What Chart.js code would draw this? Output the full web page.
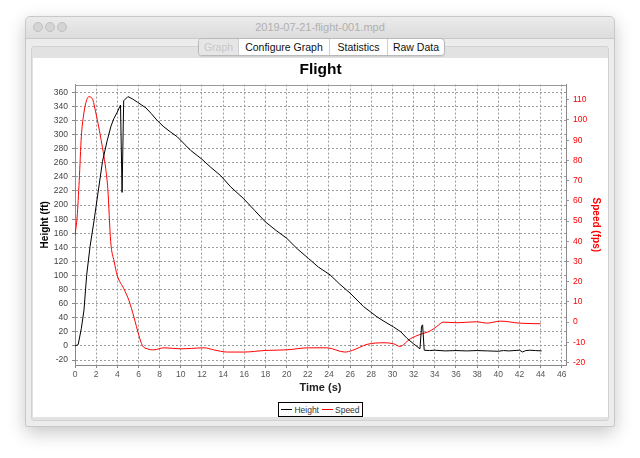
<!DOCTYPE html>
<html>
<head>
<meta charset="utf-8">
<script src="https://cdn.jsdelivr.net/npm/chart.js@4.4.1/dist/chart.umd.min.js"></script>
<style>
  html, body { margin:0; padding:0; background:#ffffff; width:640px; height:458px; overflow:hidden; font-family:"Liberation Sans", Arial, sans-serif; }
  #win { position:absolute; left:25px; top:16px; width:590px; height:411px; background:#ececec; border:1px solid #c8c8c8; border-radius:5px 5px 2px 2px; box-shadow:0 6px 18px rgba(0,0,0,0.22); box-sizing:border-box; }
  #titlebar { position:absolute; left:0; top:0; width:100%; height:21px; background:linear-gradient(#ebebeb,#dcdcdc); border-bottom:1px solid #c9c9c9; border-radius:5px 5px 0 0; }
  #titlebar .t { position:absolute; left:0; width:100%; top:4px; text-align:center; font-size:11px; color:#b0b0b0; }
  .dot { position:absolute; top:5px; width:10px; height:10px; border-radius:50%; background:#d4d4d4; border:1px solid #c0c0c0; box-sizing:border-box; }
  #pane { position:absolute; left:5px; top:29px; width:578px; height:375px; background:#e2e2e2; border:1px solid #d2d2d2; border-radius:3px; box-sizing:border-box; }
  #tabs { position:absolute; left:172px; top:21px; height:16px; display:flex; border:1px solid #b9b9b9; border-radius:4px; background:#fff; font-size:10.5px; overflow:hidden; box-shadow:0 1px 1px rgba(0,0,0,0.08); }
  #tabs div { text-align:center; line-height:16px; color:#111; border-left:1px solid #cfcfcf; box-sizing:border-box; }
  #tabs div.sel { color:#c8c8c8; background:#e6e6e6; border-left:none; }
  #panel { position:absolute; left:33px; top:58px; width:575px; height:359px; background:#fff; }
  #legend { position:absolute; left:278px; top:402px; width:85px; height:15px; border:1px solid #000; box-sizing:border-box; background:#fff; display:flex; align-items:center; justify-content:center; font-size:8.5px; color:#333; white-space:nowrap; }
  #legend span.item { display:flex; align-items:center; margin:0 1.5px; }
  #legend span.sw { display:inline-block; width:11px; height:0; border-top:1px solid #000; margin-right:2px; }
</style>
</head>
<body>
<div id="win">
  <div id="titlebar">
    <div class="dot" style="left:7px"></div>
    <div class="dot" style="left:19px"></div>
    <div class="dot" style="left:31px"></div>
    <div class="t">2019-07-21-flight-001.mpd</div>
  </div>
  <div id="pane"></div>
  <div id="tabs"><div class="sel" style="width:39px">Graph</div><div style="width:91px">Configure Graph</div><div style="width:58px">Statistics</div><div style="width:57px">Raw Data</div></div>
</div>
<div id="panel"><canvas id="c" width="575" height="359"></canvas></div>
<div id="legend"></div>
<script>
// ---- data ----
const chartTitle = "Flight";
const xTitle = "Time (s)";
const heightTitle = "Height (ft)";
const speedTitle = "Speed (fps)";

const heightTimes  = [0, 0.3, 0.6, 0.85, 1.1, 1.42, 1.8, 2.2, 2.6, 3.05, 3.4, 3.68, 4.0, 4.3, 4.45, 4.6, 5.0, 5.4, 5.9, 6.3, 6.7, 7.2, 7.77, 8.4, 9.0, 9.66, 10.9, 12.0, 12.8, 13.75, 14.7, 15.94, 17.0, 18.0, 19.0, 20.0, 21.0, 22.08, 23.0, 24.1, 25.0, 26.0, 27.26, 28.53, 29.2, 30.1, 30.8, 31.36, 32.0, 32.6, 32.75, 32.85, 33.0, 33.5, 34.0, 35.0, 36.0, 37.0, 38.0, 39.0, 40.0, 40.5, 41.0, 42.0, 42.3, 42.6, 43.0, 43.5, 44.1];
const heightValues = [0, 2, 25, 51, 100, 141, 178, 220, 262, 292, 312, 323, 332, 342, 218, 348, 354, 351, 346, 342, 338, 330, 320, 311, 304, 297, 278, 265, 254, 242, 226, 209, 192, 176, 164, 153, 138, 124, 112, 101, 88, 75, 56, 41.5, 35, 27, 20, 11, 3, -4, 28, 30, -6, -6.5, -6, -7, -6.5, -7, -6.5, -7, -7.5, -6.5, -7, -6, -8.5, -6.5, -6, -6.5, -7];

const speedTimes  = [0, 0.2, 0.4, 0.6, 0.8, 1.0, 1.3, 1.64, 1.95, 2.42, 2.9, 3.1, 3.37, 3.7, 4.0, 4.62, 5.1, 5.57, 6.04, 6.36, 6.83, 7.45, 8.4, 9.97, 11.0, 12.2, 13.1, 14.4, 15.94, 18.0, 20.0, 22.08, 23.8, 25.5, 26.2, 27.6, 29.2, 30.1, 30.7, 31.7, 32.6, 33.55, 34.2, 34.8, 36.1, 37.96, 38.9, 40.2, 42.0, 44.0];
const speedValues = [43, 52, 70, 92, 102, 108, 111.5, 110.5, 104, 91.5, 76, 66, 40, 30, 23, 16.5, 10.7, 2.5, -6.6, -11.5, -13.2, -13.7, -12.7, -13.2, -13, -12.7, -13.7, -14.8, -14.8, -14, -13.7, -12.7, -12.7, -14.8, -14, -11, -10.2, -10.7, -12, -8.2, -6.1, -4.4, -2.1, 0, -0.3, 0.2, -0.5, 0.5, -0.5, -0.8];

const xTicks      = [0,2,4,6,8,10,12,14,16,18,20,22,24,26,28,30,32,34,36,38,40,42,44,46];
const heightTicks = [-20,0,20,40,60,80,100,120,140,160,180,200,220,240,260,280,300,320,340,360];
const speedTicks  = [-20,-10,0,10,20,30,40,50,60,70,80,90,100,110];

const seriesNames  = ["Height", "Speed"];
const seriesColors = ["#000000", "#ff0000"];

// ---- chart ----
const toPts = (xs, ys) => xs.map((x, i) => ({x: x, y: ys[i]}));
const FAM = "'Liberation Sans', Arial, sans-serif";
const tickFont = {family: FAM, size: 8.5};

const outline = {
  id: "outline",
  beforeDatasetsDraw(chart) {
    const a = chart.chartArea, ctx = chart.ctx;
    ctx.save();
    ctx.strokeStyle = "#9a9a9a";
    ctx.lineWidth = 1;
    ctx.beginPath();
    ctx.moveTo(a.left, Math.round(a.top) + 0.5);
    ctx.lineTo(a.right, Math.round(a.top) + 0.5);
    ctx.stroke();
    ctx.restore();
  }
};

const chart = new Chart(document.getElementById("c"), {
  type: "line",
  data: {
    datasets: [
      { label: seriesNames[0], data: toPts(heightTimes, heightValues), yAxisID: "yH",
        borderColor: seriesColors[0], backgroundColor: seriesColors[0], borderWidth: 1, pointRadius: 0, tension: 0 },
      { label: seriesNames[1], data: toPts(speedTimes, speedValues), yAxisID: "yS",
        borderColor: seriesColors[1], backgroundColor: seriesColors[1], borderWidth: 1, pointRadius: 0, cubicInterpolationMode: "monotone" }
    ]
  },
  options: {
    responsive: false,
    animation: false,
    layout: { padding: { top: 0, bottom: 18, left: 0, right: 0 } },
    plugins: {
      legend: { display: false },
      tooltip: { enabled: false },
      title: { display: true, text: chartTitle, color: "#000",
               font: {family: FAM, size: 15.5, weight: "bold"},
               padding: { top: 2, bottom: 6 } }
    },
    scales: {
      x: {
        type: "linear", position: "bottom", min: 0, max: 46.4,
        afterBuildTicks: s => { s.ticks = xTicks.map(v => ({value: v})); },
        afterFit: s => { s.height = 34; },
        ticks: { color: "#555", font: tickFont, padding: 2, maxRotation: 0, autoSkip: false },
        grid: { color: "#9c9c9c", tickLength: 3, tickColor: "#888" },
        border: { color: "#8a8a8a", dash: [2, 2] },
        title: { display: true, text: xTitle, color: "#222", font: {family: FAM, size: 11, weight: "bold"}, padding: { top: 2, bottom: 4 } }
      },
      yH: {
        type: "linear", position: "left", min: -27, max: 371,
        afterBuildTicks: s => { s.ticks = heightTicks.map(v => ({value: v})); },
        afterFit: s => { s.width = 42; },
        ticks: { color: "#444", font: tickFont, padding: 4, autoSkip: false },
        grid: { color: "#9c9c9c", tickLength: 3, tickColor: "#888" },
        border: { color: "#8a8a8a", dash: [2, 2] },
        title: { display: true, text: heightTitle, color: "#000", font: {family: FAM, size: 10, weight: "bold"}, padding: { top: 6, bottom: 2 } }
      },
      yS: {
        type: "linear", position: "right", min: -21.2, max: 117.5,
        afterBuildTicks: s => { s.ticks = speedTicks.map(v => ({value: v})); },
        afterFit: s => { s.width = 42; },
        ticks: { color: "#ff0000", font: tickFont, padding: 4, autoSkip: false },
        grid: { drawOnChartArea: false, tickLength: 3, tickColor: "#999" },
        border: { color: "#8a8a8a" },
        title: { display: true, text: speedTitle, color: "#ff0000", font: {family: FAM, size: 10, weight: "bold"}, padding: { top: 6, bottom: 2 } }
      }
    }
  },
  plugins: [outline]
});

// HTML legend built from datasets
const lg = document.getElementById("legend");
chart.data.datasets.forEach(ds => {
  const it = document.createElement("span"); it.className = "item";
  const sw = document.createElement("span"); sw.className = "sw"; sw.style.borderTopColor = ds.borderColor;
  it.appendChild(sw); it.appendChild(document.createTextNode(ds.label));
  lg.appendChild(it);
});
</script>
</body>
</html>
